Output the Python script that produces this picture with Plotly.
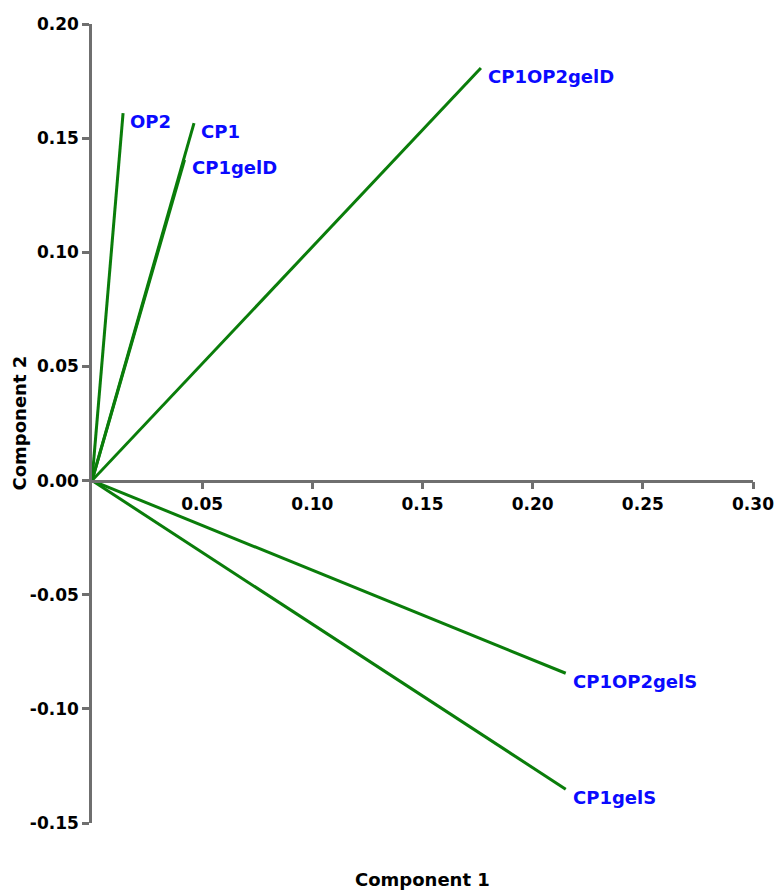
import plotly.graph_objects as go

names = ["OP2", "CP1", "CP1gelD", "CP1OP2gelD", "CP1OP2gelS", "CP1gelS"]
comp1 = [0.0141, 0.0463, 0.0420, 0.1765, 0.2150, 0.2150]
comp2 = [0.1610, 0.1566, 0.1405, 0.1807, -0.0844, -0.1352]
x_ticks = [0.05, 0.10, 0.15, 0.20, 0.25, 0.30]
x_tick_labels = ["0.05", "0.10", "0.15", "0.20", "0.25", "0.30"]
y_ticks = [-0.15, -0.10, -0.05, 0.00, 0.05, 0.10, 0.15, 0.20]
y_tick_labels = ["-0.15", "-0.10", "-0.05", "0.00", "0.05", "0.10", "0.15", "0.20"]

FONT = "DejaVu Sans"
GREEN = "#0a7d0a"
BLUE = "#0a0aff"
AXIS = "#6f6f6f"

fig = go.Figure()
for n, x, y in zip(names, comp1, comp2):
    fig.add_trace(go.Scatter(x=[0, x], y=[0, y], mode="lines",
                             line=dict(color=GREEN, width=3),
                             showlegend=False, hoverinfo="skip", cliponaxis=False))
    fig.add_annotation(x=x, y=y, text="<b>%s</b>" % n, showarrow=False,
                       xanchor="left", yanchor="middle", xshift=5, yshift=-8,
                       font=dict(family=FONT, size=18, color=BLUE))

y0 = 0.15 / 0.35
tf = dict(family=FONT, size=17, color="black", weight="bold")
fig.update_layout(
    width=776, height=891,
    margin=dict(l=92, r=23, t=24, b=68),
    plot_bgcolor="white", paper_bgcolor="white",
    font=dict(family=FONT, color="black"),
    xaxis=dict(range=[0, 0.30], tickvals=x_ticks, ticktext=x_tick_labels,
               anchor="free", position=y0, showline=True, linecolor=AXIS,
               linewidth=2.5, ticks="outside", tickcolor=AXIS, tickwidth=2.5,
               ticklen=7, showgrid=False, zeroline=False, tickfont=tf,
               ticklabeloverflow="allow", automargin=False),
    yaxis=dict(range=[-0.15, 0.20], tickvals=y_ticks, ticktext=y_tick_labels,
               showline=True, linecolor=AXIS, linewidth=2.5, ticks="outside",
               tickcolor=AXIS, tickwidth=2.5, ticklen=7, showgrid=False,
               zeroline=False, tickfont=tf, automargin=False),
)
fig.add_annotation(xref="paper", yref="paper", x=0.5, y=0, yshift=-56,
                   xanchor="center", yanchor="middle", showarrow=False,
                   text="<b>Component 1</b>",
                   font=dict(family=FONT, size=18, color="black"))
fig.add_annotation(xref="paper", yref="paper", x=0, xshift=-73, y=0.5,
                   xanchor="center", yanchor="middle", showarrow=False,
                   textangle=-90, text="<b>Component 2</b>",
                   font=dict(family=FONT, size=18, color="black"))
fig.write_html("out.html", config={"displayModeBar": False},
               post_script="document.body.style.margin='0';document.body.style.overflow='hidden';")
